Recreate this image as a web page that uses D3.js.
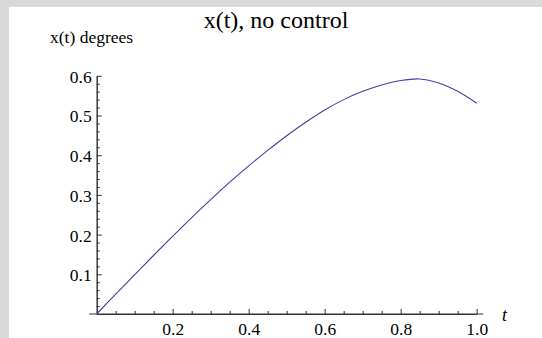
<!DOCTYPE html>
<html>
<head>
<meta charset="utf-8">
<script src="https://cdn.jsdelivr.net/npm/d3@7"></script>
<style>
	html, body { margin: 0; padding: 0; overflow: hidden; background: #fff; }
	svg { display: block; }
	svg text { font-family: "Liberation Serif", "Times New Roman", serif !important; fill: #000; }
</style>
</head>
<body>
<script>
// values
var tValues = [0, 0.05, 0.1, 0.15, 0.2, 0.25, 0.3, 0.35, 0.4, 0.45, 0.5, 0.55, 0.6, 0.65, 0.7, 0.75, 0.8, 0.85, 0.9, 0.95, 1.0];
var xValues = [0, 0.050, 0.099, 0.148, 0.196, 0.243, 0.288, 0.332, 0.373, 0.412, 0.449, 0.483, 0.514, 0.540, 0.561, 0.577, 0.588, 0.592, 0.582, 0.561, 0.531];
var tMajor = [0.2, 0.4, 0.6, 0.8, 1.0];
var tMinor = [0.05, 0.1, 0.15, 0.25, 0.3, 0.35, 0.45, 0.5, 0.55, 0.65, 0.7, 0.75, 0.85, 0.9, 0.95];
var xMajor = [0.1, 0.2, 0.3, 0.4, 0.5, 0.6];
var xMinor = [0.02, 0.04, 0.06, 0.08, 0.12, 0.14, 0.16, 0.18, 0.22, 0.24, 0.26, 0.28,
	0.32, 0.34, 0.36, 0.38, 0.42, 0.44, 0.46, 0.48, 0.52, 0.54, 0.56, 0.58];

var width = 542, height = 338;

var svg = d3.select('body').append('svg')
	.attr('width', width)
	.attr('height', height);

// grey frame on the left and top
svg.append('rect')
	.attr('x', 0).attr('y', 0)
	.attr('width', width).attr('height', 7)
	.attr('fill', '#d9d9d9');
svg.append('rect')
	.attr('x', 0).attr('y', 0)
	.attr('width', 9).attr('height', height)
	.attr('fill', '#d9d9d9');

// scales
var x = d3.scaleLinear().domain([0, 1]).range([96.7, 476.7]);
var y = d3.scaleLinear().domain([0, 0.6]).range([314, 75.8]);

var axisColor = '#333';

// x axis
var gx = svg.append('g').attr('transform', 'translate(0,' + y(0) + ')');
gx.append('line')
	.attr('x1', x(-0.02)).attr('x2', x(1.017))
	.attr('stroke', axisColor);
gx.append('g')
	.call(d3.axisBottom(x).tickValues(tMinor).tickSizeInner(-3).tickSizeOuter(0).tickFormat(''));
gx.append('g')
	.call(d3.axisBottom(x).tickValues(tMajor).tickSizeInner(-5).tickSizeOuter(0).tickPadding(9).tickFormat(d3.format('.1f')));

// y axis
var gy = svg.append('g').attr('transform', 'translate(' + x(0) + ',0)');
gy.append('g')
	.call(d3.axisLeft(y).tickValues(xMinor).tickSizeInner(-3).tickSizeOuter(0).tickFormat(''));
gy.append('g')
	.call(d3.axisLeft(y).tickValues(xMajor).tickSizeInner(-5).tickSizeOuter(0).tickPadding(5).tickFormat(d3.format('.1f')));

svg.selectAll('.domain').attr('stroke', axisColor);
svg.selectAll('.tick line').attr('stroke', axisColor);
svg.selectAll('.tick text')
	.attr('font-size', 17.5)
	.attr('fill', '#000');
gy.selectAll('.tick text').attr('dy', '0.37em');

// curve
var line = d3.line()
	.x(function (d, i) { return x(tValues[i]); })
	.y(function (d) { return y(d); })
	.curve(d3.curveCatmullRom);

svg.append('path')
	.datum(xValues)
	.attr('d', line)
	.attr('fill', 'none')
	.attr('stroke', '#4040a8')
	.attr('stroke-width', 1.1);

// labels
svg.append('text')
	.attr('x', 276).attr('y', 28)
	.attr('text-anchor', 'middle')
	.attr('font-size', 24)
	.text('x(t), no control');

svg.append('text')
	.attr('x', 50).attr('y', 43)
	.attr('font-size', 17.5)
	.text('x(t) degrees');

svg.append('text')
	.attr('x', 502).attr('y', 321)
	.attr('font-size', 18)
	.attr('font-style', 'italic')
	.text('t');
</script>
</body>
</html>
